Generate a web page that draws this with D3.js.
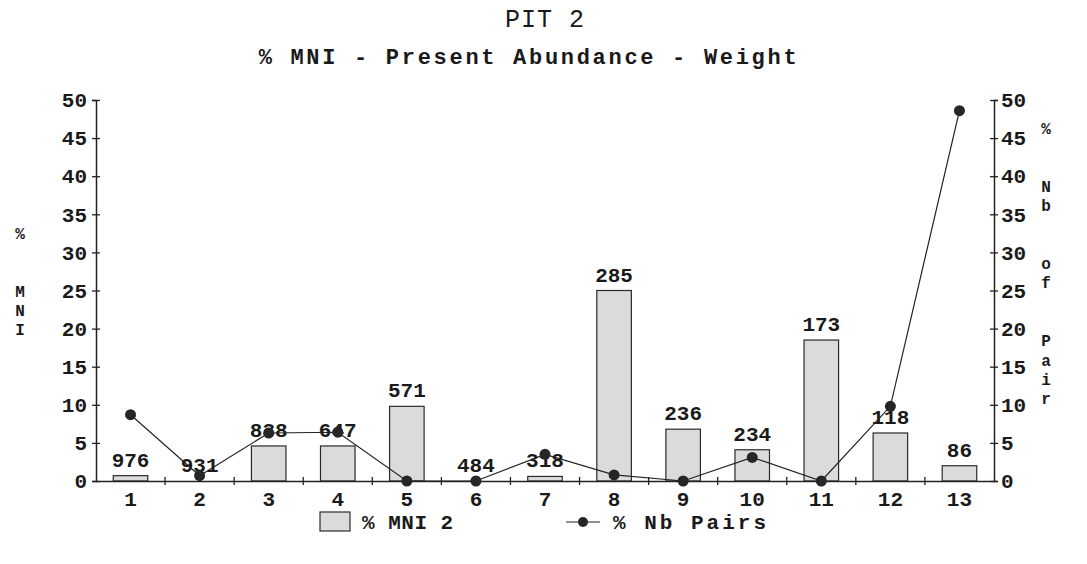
<!DOCTYPE html>
<html>
<head>
<meta charset="utf-8">
<script src="https://cdn.jsdelivr.net/npm/d3@7"></script>
<style>
  body { margin: 0; background: #fff; }
  text { font-family: "Liberation Mono", "Courier New", monospace; fill: #1a1a1a; }
</style>
</head>
<body>
<div id="chart"></div>
<script>
// values
const categories = ['1', '2', '3', '4', '5', '6', '7', '8', '9', '10', '11', '12', '13'];
const mniPct = [0.7, 0, 4.6, 4.6, 9.8, 0, 0.6, 25, 6.8, 4.1, 18.5, 6.3, 2.0];
const nbPairsPct = [8.7, 0.7, 6.3, 6.4, 0, 0, 3.5, 0.8, 0, 3.1, 0, 9.8, 48.6];
const barLabels = [976, 931, 838, 647, 571, 484, 318, 285, 236, 234, 173, 118, 86];
const yTicks = [0, 5, 10, 15, 20, 25, 30, 35, 40, 45, 50];

const width = 1087, height = 564;
const plotLeft = 96, plotRight = 994, plotTop = 100, plotBottom = 481;

const svg = d3.select('#chart').append('svg')
    .attr('width', width)
    .attr('height', height);

const x = d3.scaleBand().domain(categories).range([plotLeft, plotRight]).padding(0);
const y = d3.scaleLinear().domain([0, 50]).range([plotBottom, plotTop]);
const y2 = d3.scaleLinear().domain([0, 50]).range([plotBottom, plotTop]);

// titles
svg.append('text')
    .attr('x', 545).attr('y', 27)
    .attr('text-anchor', 'middle')
    .style('font-size', '25px')
    .style('letter-spacing', '1px')
    .text('PIT 2');
svg.append('text')
    .attr('x', 529).attr('y', 64)
    .attr('text-anchor', 'middle')
    .style('font-size', '22px')
    .style('font-weight', 'bold')
    .style('letter-spacing', '2.7px')
    .text('% MNI - Present Abundance - Weight');

// bars
svg.append('g')
    .selectAll('rect')
    .data(categories)
    .join('rect')
    .attr('x', (d, i) => x(d) + x.bandwidth() * 0.25)
    .attr('width', x.bandwidth() * 0.5)
    .attr('y', (d, i) => y(mniPct[i]))
    .attr('height', (d, i) => y(0) - y(mniPct[i]))
    .style('fill', '#d9dcdb')
    .style('stroke', '#2a2a2a')
    .style('stroke-width', 1.2);

// axes
const yAxis = svg.append('g')
    .attr('transform', `translate(${plotLeft},0)`)
    .call(d3.axisLeft(y).tickValues(yTicks).tickSize(4).tickPadding(5));
yAxis.selectAll('.tick line').attr('x1', 4);

const yAxis2 = svg.append('g')
    .attr('transform', `translate(${plotRight},0)`)
    .call(d3.axisRight(y2).tickValues(yTicks).tickSize(4).tickPadding(3));
yAxis2.selectAll('.tick line').attr('x1', -4);

const xAxis = svg.append('g')
    .attr('transform', `translate(0,${plotBottom})`)
    .call(d3.axisBottom(x).tickSize(0).tickPadding(10));

[yAxis, yAxis2, xAxis].forEach(g => {
    g.select('.domain').style('stroke', '#222').style('stroke-width', 1.5);
    g.selectAll('.tick line').style('stroke', '#222').style('stroke-width', 1.3);
    g.selectAll('text')
        .style('font-family', '"Liberation Mono", "Courier New", monospace')
        .style('font-size', '21px')
        .style('font-weight', 'bold')
        .style('fill', '#1a1a1a');
});

// tick marks between categories
svg.append('g')
    .selectAll('line')
    .data(categories.slice(1))
    .join('line')
    .attr('x1', d => x(d)).attr('x2', d => x(d))
    .attr('y1', plotBottom - 4).attr('y2', plotBottom + 4)
    .style('stroke', '#222')
    .style('stroke-width', 1.3);

// count labels above bars
svg.append('g')
    .selectAll('text')
    .data(categories)
    .join('text')
    .attr('x', d => x(d) + x.bandwidth() / 2)
    .attr('y', (d, i) => y(mniPct[i]) - 9)
    .attr('text-anchor', 'middle')
    .style('font-size', '21px')
    .style('font-weight', 'bold')
    .text((d, i) => barLabels[i]);

// % Nb Pairs line
const line = d3.line()
    .x((d, i) => x(categories[i]) + x.bandwidth() / 2)
    .y(d => y2(d));

svg.append('path')
    .datum(nbPairsPct)
    .attr('d', line)
    .style('fill', 'none')
    .style('stroke', '#222')
    .style('stroke-width', 1.2);

svg.append('g')
    .selectAll('circle')
    .data(nbPairsPct)
    .join('circle')
    .attr('cx', (d, i) => x(categories[i]) + x.bandwidth() / 2)
    .attr('cy', d => y2(d))
    .attr('r', 5.5)
    .style('fill', '#262626');

// vertical axis titles, one letter per line
const leftTitle = ['%', '', '', 'M', 'N', 'I'];
const rightTitle = ['%', '', '', 'N', 'b', '', '', 'o', 'f', '', '', 'P', 'a', 'i', 'r'];
svg.append('g')
    .selectAll('text')
    .data(leftTitle)
    .join('text')
    .attr('x', 20)
    .attr('y', (d, i) => 239 + i * 19.2)
    .attr('text-anchor', 'middle')
    .style('font-size', '16px')
    .style('font-weight', 'bold')
    .text(d => d);
svg.append('g')
    .selectAll('text')
    .data(rightTitle)
    .join('text')
    .attr('x', 1046)
    .attr('y', (d, i) => 134 + i * 19.3)
    .attr('text-anchor', 'middle')
    .style('font-size', '16px')
    .style('font-weight', 'bold')
    .text(d => d);

// legend
const legend = svg.append('g');
legend.append('rect')
    .attr('x', 320).attr('y', 512)
    .attr('width', 30).attr('height', 19)
    .style('fill', '#d9dcdb')
    .style('stroke', '#2a2a2a')
    .style('stroke-width', 1.2);
legend.append('text')
    .attr('x', 362).attr('y', 529)
    .style('font-size', '21px')
    .style('font-weight', 'bold')
    .style('letter-spacing', '0.5px')
    .text('% MNI 2');
legend.append('line')
    .attr('x1', 566).attr('x2', 600)
    .attr('y1', 522).attr('y2', 522)
    .style('stroke', '#222')
    .style('stroke-width', 1.2);
legend.append('circle')
    .attr('cx', 583).attr('cy', 522).attr('r', 5)
    .style('fill', '#262626');
legend.append('text')
    .attr('x', 613).attr('y', 529)
    .style('font-size', '21px')
    .style('font-weight', 'bold')
    .style('letter-spacing', '3px')
    .text('% Nb Pairs');
</script>
</body>
</html>
